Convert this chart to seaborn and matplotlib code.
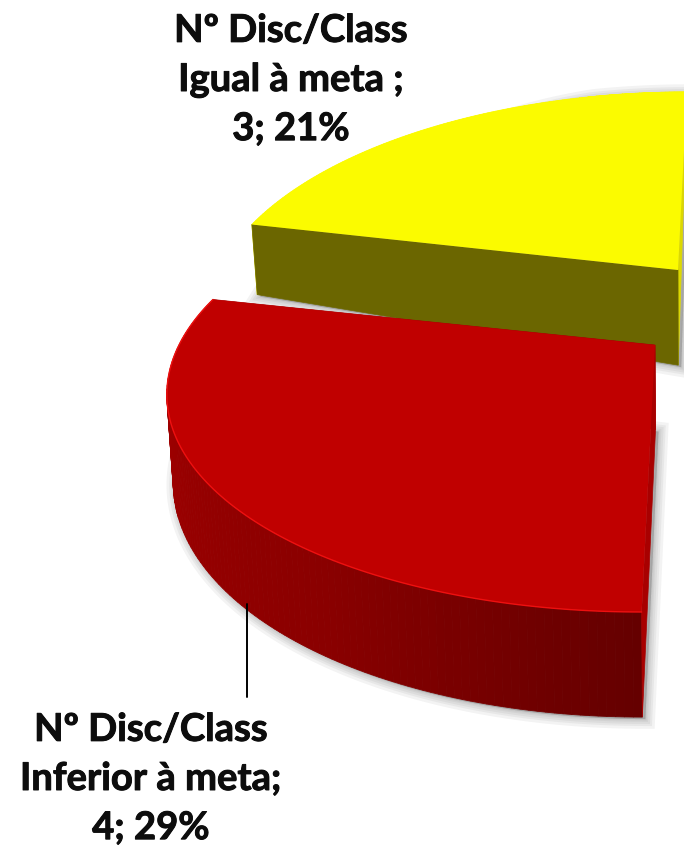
import numpy as np
import matplotlib
matplotlib.use('Agg')
import matplotlib.pyplot as plt
import matplotlib.patheffects as pe
import seaborn as sns

# data
categories = ['Nº Disc/Class\nIgual à meta ;', 'Nº Disc/Class\nInferior à meta;']
counts = [3, 4]
total = 14
start_angle = 90

sns.set_theme(style='white')
plt.rcParams['font.family'] = ['Lato', 'DejaVu Sans']

fig = plt.figure(figsize=(6.84, 8.5), dpi=100)
ax = fig.add_axes([0, 0, 1, 1])
ax.set_xlim(0, 684)
ax.set_ylim(850, 0)
ax.axis('off')

# pie projection
RY, PERSP, SHEAR = 213.6, 0.2, 0.05


def rim(theta, cx, cy, rx):
    t = np.radians(theta)
    d = 1 + PERSP * np.sin(t)
    x = rx * np.cos(t) / d
    y = RY * np.sin(t) / d
    return cx + x + SHEAR * y, cy - y


def drop(x, y, h0, slope, y0):
    # wall bottom for a point on the top face
    h = np.maximum(h0 + slope * (y - y0), 0)
    return x + 0.012 * (700 - x), y + h


def draw_wedge(a0, a1, cx, cy, rx, top, wall, face0, face1, edge, h0, slope, y0, z):
    th = np.linspace(a0, a1, 120)
    x, y = rim(th, cx, cy, rx)
    bx, by = drop(x, y, h0, slope, y0)
    ax_, ay_ = drop(cx, cy, h0, slope, y0)

    # soft shadow under the slice
    sx = np.r_[bx, ax_]
    sy = np.r_[by, ay_]
    for lw in [14, 10, 7, 4, 2]:
        ax.fill(sx + 3, sy + 2, color='#555555', alpha=0.07, lw=lw, ec='#555555', zorder=z)

    # outer wall, then the two cut faces
    for i in range(len(th) - 1):
        ax.fill([x[i], x[i + 1], bx[i + 1], bx[i]], [y[i], y[i + 1], by[i + 1], by[i]],
                color=wall[i], lw=0.6, zorder=z + 1)
    ax.fill([cx, x[0], bx[0], ax_], [cy, y[0], by[0], ay_], color=face0, lw=0.5, zorder=z + 2)
    ax.fill([cx, x[-1], bx[-1], ax_], [cy, y[-1], by[-1], ay_], color=face1, lw=0.5, zorder=z + 2)

    # top face
    ax.fill(np.r_[cx, x], np.r_[cy, y], color=top, lw=0, zorder=z + 3)
    if edge:
        ax.plot(x, y, color=edge, lw=1.0, zorder=z + 4)


angles = start_angle + np.cumsum([0] + counts) / total * 360

yellow_wall = ['#fbfb00'] * 119
red_wall = sns.blend_palette(['#b00000', '#9a0000', '#8a0000', '#650000'], 119)

draw_wedge(angles[0], angles[1], 678, 270, 459, '#fbfb00', yellow_wall, '#dcd800', '#6b6600', None, 71, 0.55, 226, 1)
draw_wedge(angles[1], angles[2], 655, 345, 476, '#c00000', red_wall, '#a80000', '#a80000', '#ee1010', 88, 0.077, 390, 10)

# leader line
ax.plot([247, 247], [604, 697], color='black', lw=1.4, zorder=30)

# labels
label_pos = [(291, 80), (151, 779)]
for cat, n, (lx, ly) in zip(categories, counts, label_pos):
    txt = f'{cat}\n{n}; {round(100 * n / total)}%'
    t = ax.text(lx, ly, txt, ha='center', va='center', fontsize=27.5, fontweight='bold',
                color='#0d0d0d', linespacing=1.54, zorder=40)
    t.set_path_effects([pe.withStroke(linewidth=0.7, foreground='#0d0d0d')])

fig.savefig('out.png', dpi=100, facecolor='white')
